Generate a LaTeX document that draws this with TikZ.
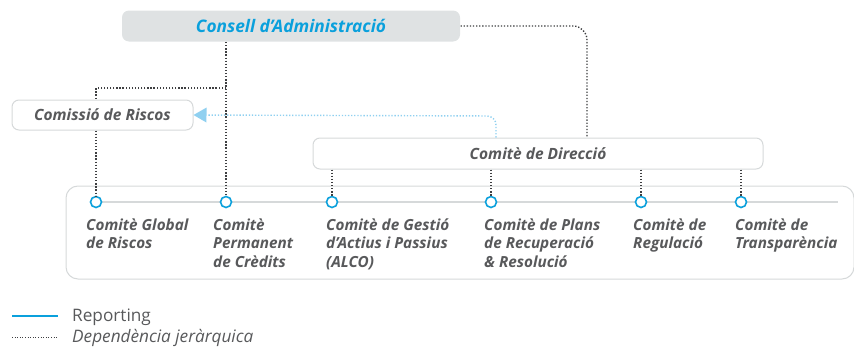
\documentclass[tikz,border=0pt]{standalone}
\usepackage{fontspec}
\setmainfont{Open Sans}
\usetikzlibrary{arrows.meta}
\definecolor{txtgray}{HTML}{58595B}
\definecolor{cblue}{HTML}{0AA0DC}
\definecolor{lblue}{HTML}{8FD0F0}
\definecolor{bordergray}{HTML}{D6D9DA}
\definecolor{fillgray}{HTML}{DFE2E3}
\definecolor{dotgray}{HTML}{3E3F41}
\tikzset{
  x=1pt, y=-1pt,
  hier/.style={draw=dotgray, line width=1.4pt, dash pattern=on 1.3pt off 1.8pt},
  rep/.style={draw=lblue, line width=1.4pt, dash pattern=on 1.3pt off 1.8pt},
  box/.style={draw=bordergray, line width=1pt, rounded corners=7pt, fill=white, inner sep=0pt},
  lbl/.style={font=\fontsize{15.3}{18.5}\selectfont\bfseries\itshape, text=txtgray, align=left, anchor=north west, inner sep=0pt},
  dot/.style={circle, draw=cblue, line width=1.6pt, fill=white, minimum size=11pt, inner sep=0pt},
}
\begin{document}
\begin{tikzpicture}
\useasboundingbox (0,0) rectangle (854,348);
% boxes
\node[box, draw=none, fill=fillgray, minimum width=338pt, minimum height=31pt] (cons) at (291,26) {};
\node[font=\fontsize{17.3}{20}\selectfont\bfseries\itshape, text=cblue] at (cons) {Consell d’Administració};
\node[box, minimum width=181pt, minimum height=30pt] (cris) at (102.5,115) {};
\node[font=\fontsize{15.5}{18}\selectfont\bfseries\itshape, text=txtgray] at (cris) {Comissió de Riscos};
\node[box, minimum width=450pt, minimum height=31pt] (cdir) at (538,153.5) {};
\node[font=\fontsize{15.5}{18}\selectfont\bfseries\itshape, text=txtgray] at (cdir) {Comitè de Direcció};
\node[box, minimum width=788pt, minimum height=93pt, rounded corners=12pt] (big) at (460,232.5) {};
% baseline
\coordinate (l0) at (96,202);
\coordinate (l1) at (838,202);
\draw[draw=bordergray, line width=1.2pt] (l0) -- (l1);
% circles
\node[dot] (c1) at (96,202) {};
\node[dot] (c2) at (226,202) {};
\node[dot] (c3) at (332,202) {};
\node[dot] (c4) at (491,202) {};
\node[dot] (c5) at (641,202) {};
\node[dot] (c6) at (741,202) {};
% labels
\node[lbl] (t1) at (86,218.5) {Comitè Global\\de Riscos};
\node[lbl] (t2) at (213,218.5) {Comitè\\Permanent\\de Crèdits};
\node[lbl] (t3) at (326,218.5) {Comitè de Gestió\\d’Actius i Passius\\(ALCO)};
\node[lbl] (t4) at (484,218.5) {Comitè de Plans\\de Recuperació\\\& Resolució};
\node[lbl] (t5) at (633,218.5) {Comitè de\\Regulació};
\node[lbl] (t6) at (735,218.5) {Comitè de\\Transparència};
% hierarchy connectors
\coordinate (j1) at (226,88);
\coordinate (j2) at (96,88);
\draw[hier] (cons.south -| c2) -- (c2.north);
\draw[hier] (j1) -- (j2) -- (cris.north -| j2);
\draw[hier] (cris.south -| c1) -- (c1.north);
\coordinate (k1) at (587,26);
\draw[hier, rounded corners=14pt] (cons.east) -- (k1) -- (cdir.north -| k1);
\draw[hier] (cdir.south -| c3) -- (c3.north);
\draw[hier] (cdir.south -| c4) -- (c4.north);
\draw[hier] (cdir.south -| c5) -- (c5.north);
\draw[hier] (cdir.south -| c6) -- (c6.north);
% reporting
\coordinate (r1) at (496,116);
\draw[rep, rounded corners=9pt, -{Triangle[length=13pt,width=15pt,fill=lblue,line width=0pt]}] (cdir.north -| r1) -- (r1) -- (cris.east);
% legend
\coordinate (a1) at (12,316); \coordinate (a2) at (58,316);
\coordinate (b1) at (12,337); \coordinate (b2) at (58,337);
\draw[draw=cblue, line width=1.2pt] (a1) -- (a2);
\draw[hier, line width=1pt, dash pattern=on 1pt off 1.6pt] (b1) -- (b2);
\node[anchor=base west, inner sep=0pt, text=txtgray, font=\fontsize{17.2}{18}\selectfont] (lg1) at (72,321) {Reporting};
\node[anchor=base west, inner sep=0pt, text=txtgray, font=\fontsize{17.2}{18}\selectfont\itshape] (lg2) at (72,342) {Dependència jeràrquica};
\end{tikzpicture}
\end{document}
